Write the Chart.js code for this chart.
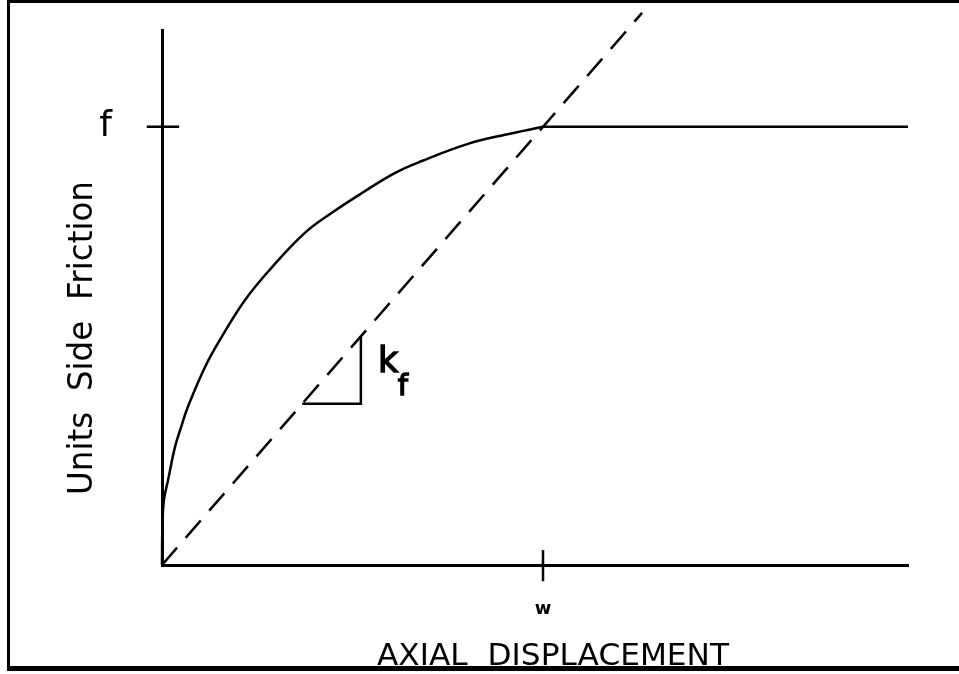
<!DOCTYPE html>
<html>
<head>
<meta charset="utf-8">
<title>Side friction vs axial displacement</title>
<script src="https://cdn.jsdelivr.net/npm/chart.js@4.4.1/dist/chart.umd.min.js"></script>
<style>
  html, body { margin: 0; padding: 0; background: #fff; }
  #wrap { position: relative; width: 959px; height: 674px; }
  #wrap canvas { position: absolute; left: 0; top: 0; }
  /* plotter frame: open on the right */
  #frame {
    position: absolute; left: 7px; top: 0; width: 952px; height: 671px;
    box-sizing: border-box; pointer-events: none;
    border-top: 3px solid #000; border-left: 3px solid #000; border-bottom: 5px solid #000;
  }
</style>
</head>
<body>
<div id="wrap">
  <canvas id="chart" width="959" height="674"></canvas>
  <div id="frame"></div>
</div>
<script>
// displacement in units of w, friction in units of f
const curveX = [0, 0.001, 0.005, 0.016, 0.034, 0.051, 0.068, 0.113, 0.157, 0.218, 0.289, 0.375, 0.446, 0.525, 0.612, 0.682, 0.803, 0.900, 1.0];
const curveY = [0, 0.087, 0.148, 0.194, 0.269, 0.317, 0.361, 0.452, 0.521, 0.605, 0.680, 0.758, 0.804, 0.849, 0.895, 0.922, 0.961, 0.982, 1.0];
const plateauX = [1.0, 1.958];
const plateauY = [1.0, 1.0];
const secantX = [0, 1.26];
const secantY = [0, 1.26];
const slopeX = [0.368, 0.522, 0.522];
const slopeY = [0.368, 0.368, 0.522];

// tick positions and labels
const xTickValues = [1];
const xTickLabels = ['w'];
const yTickValues = [1];
const yTickLabels = ['f'];
const fTickX = [-0.04, 0.045];
const fTickY = [1, 1];
const wTickX = [1, 1];
const wTickY = [-0.037, 0.034];

const xTitle = 'AXIAL  DISPLACEMENT';
const yTitle = 'Units  Side  Friction';
const slopeLabel = 'k';
const slopeSub = 'f';

const FONT = '"DejaVu Sans", Verdana, sans-serif';

function toPoints(xs, ys) {
  return xs.map((x, i) => ({ x, y: ys[i] }));
}

function line(xs, ys, extra = {}) {
  return Object.assign({
    data: toPoints(xs, ys),
    showLine: true,
    borderColor: '#000',
    borderWidth: 2.5,
    pointRadius: 0,
    fill: false,
    clip: false
  }, extra);
}

// draw text centred at (cx, cy), squeezed/stretched to a given length
function drawFitted(ctx, text, font, cx, cy, length, angle) {
  ctx.save();
  ctx.font = font;
  ctx.translate(cx, cy);
  ctx.rotate(angle);
  const w = ctx.measureText(text).width;
  ctx.scale(length / w, 1);
  ctx.textAlign = 'center';
  ctx.textBaseline = 'alphabetic';
  ctx.fillText(text, 0, 0);
  ctx.restore();
}

// pen-style text: filled and outlined so strokes come out heavier
function drawPen(ctx, text, font, px, py) {
  ctx.font = font;
  ctx.fillText(text, px, py);
  ctx.strokeText(text, px, py);
}

// the single tick labels shouldn't push the plot area around
function noLabelPadding(s) {
  s.paddingTop = 0;
  s.paddingBottom = 0;
  s.paddingLeft = 0;
  s.paddingRight = 0;
}

const annotate = {
  id: 'annotate',
  afterDraw(chart) {
    const { ctx, scales: { x, y } } = chart;
    ctx.save();
    ctx.fillStyle = '#000';
    ctx.strokeStyle = '#000';
    ctx.lineWidth = 1.4;
    ctx.textBaseline = 'alphabetic';
    ctx.textAlign = 'left';

    // slope label beside the triangle
    drawPen(ctx, slopeLabel, '35px ' + FONT, x.getPixelForValue(0.567), y.getPixelForValue(0.441));
    drawPen(ctx, slopeSub, '29px ' + FONT, x.getPixelForValue(0.619), y.getPixelForValue(0.388));

    // axis titles
    drawFitted(ctx, xTitle, '31px ' + FONT, 553, 665, 352, 0);
    drawFitted(ctx, yTitle, '34px ' + FONT, 92, 338, 314, -Math.PI / 2);
    ctx.restore();
  }
};

new Chart(document.getElementById('chart'), {
  type: 'scatter',
  data: {
    datasets: [
      line(curveX, curveY, { tension: 0.4 }),
      line(plateauX, plateauY),
      line(secantX, secantY, { borderDash: [23, 13] }),
      line(slopeX, slopeY),
      line(fTickX, fTickY),
      line(wTickX, wTickY)
    ]
  },
  options: {
    responsive: false,
    animation: false,
    events: [],
    layout: { padding: { left: 0, top: 30, right: 51, bottom: 0 } },
    plugins: { legend: { display: false }, tooltip: { enabled: false } },
    scales: {
      x: {
        type: 'linear',
        min: 0,
        max: 1.958,
        grid: { display: false },
        border: { display: true, color: '#000', width: 3 },
        afterBuildTicks: s => { s.ticks = xTickValues.map(v => ({ value: v })); },
        afterFit: s => { s.height = 109; noLabelPadding(s); },
        ticks: {
          color: '#000',
          padding: 26,
          maxRotation: 0,
          autoSkip: false,
          font: { family: FONT, size: 18, weight: 'bold' },
          callback: v => xTickLabels[xTickValues.indexOf(v)] ?? ''
        }
      },
      y: {
        type: 'linear',
        min: 0,
        max: 1.221,
        grid: { display: false },
        border: { display: true, color: '#000', width: 3 },
        afterBuildTicks: s => { s.ticks = yTickValues.map(v => ({ value: v })); },
        afterFit: s => { s.width = 162; noLabelPadding(s); },
        ticks: {
          color: '#000',
          padding: 42,
          autoSkip: false,
          font: { family: FONT, size: 36 },
          callback: v => yTickLabels[yTickValues.indexOf(v)] ?? ''
        }
      }
    }
  },
  plugins: [annotate]
});
</script>
</body>
</html>
